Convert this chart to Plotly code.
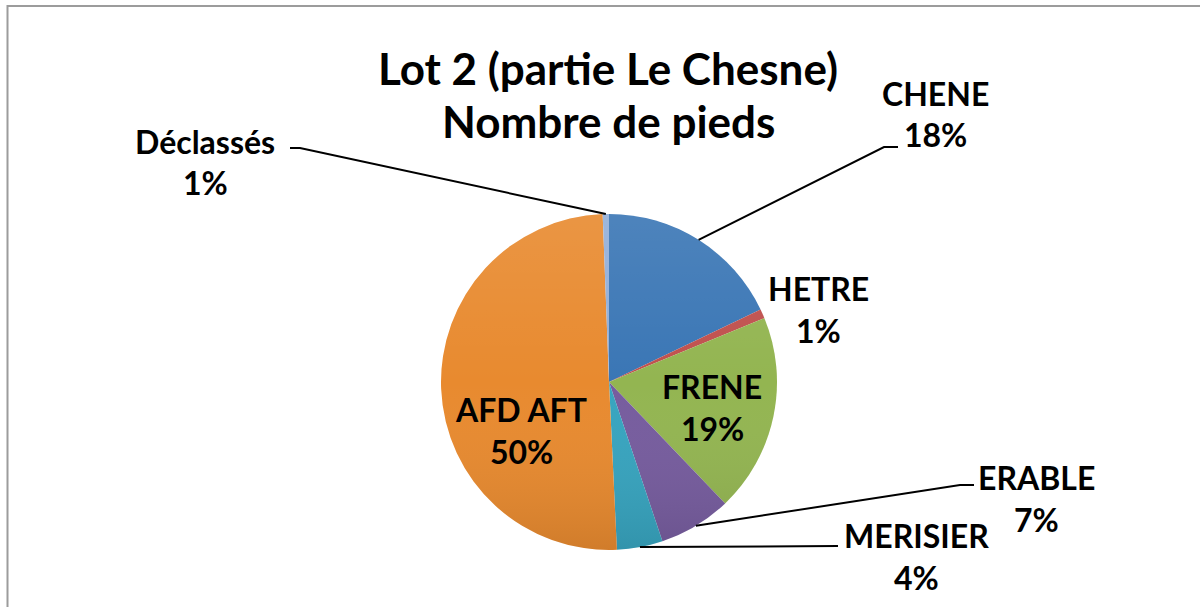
import math
import base64
import plotly.graph_objects as go

# ---- data ----
labels = ["CHENE", "HETRE", "FRENE", "ERABLE", "MERISIER", "AFD AFT", "Déclassés"]
values = [17.9, 0.9, 19.05, 7.0, 4.4, 50.15, 0.6]
colors = ["#3A76B5", "#C0504D", "#93B551", "#765C9E", "#37A4BF", "#E88A2F", "#93AFD8"]

title_lines = ["Lot 2 (partie Le Chesne)", "Nombre de pieds"]

# ---- layout geometry (pixels) ----
W, H = 1200, 607
CX, CY, R = 609, 382, 168

# label block centres (px) and leader-line anchor
label_pos = {
    "CHENE": (935, 114, True, (884, 147)),
    "HETRE": (818, 309, False, None),
    "FRENE": (712, 407, False, None),
    "ERABLE": (1036, 498, True, (960, 485)),
    "MERISIER": (916, 556, True, (838, 546)),
    "AFD AFT": (521, 430, False, None),
    "Déclassés": (205, 162, True, (300, 148)),
}
stub = {"CHENE": 14, "ERABLE": 14, "MERISIER": 0, "Déclassés": -10}

def px(x):
    return x / W

def py(y):
    return 1 - y / H

fig = go.Figure()
fig.add_trace(go.Pie(
    labels=labels, values=values, sort=False, direction="clockwise", rotation=0,
    marker=dict(colors=colors, line=dict(width=0)),
    textinfo="none", showlegend=False, hole=0,
    domain=dict(x=[px(CX - R), px(CX + R)], y=[py(CY + R), py(CY - R)]),
))

# subtle vertical shading over the pie (Excel-style gradient look)
svg = ('<svg xmlns="http://www.w3.org/2000/svg" width="336" height="336" viewBox="0 0 336 336">'
       '<defs><linearGradient id="g" x1="0" y1="0" x2="0" y2="1">'
       '<stop offset="0" stop-color="#ffffff" stop-opacity="0.10"/>'
       '<stop offset="0.5" stop-color="#ffffff" stop-opacity="0"/>'
       '<stop offset="1" stop-color="#000000" stop-opacity="0.10"/>'
       '</linearGradient></defs>'
       '<circle cx="168" cy="168" r="168" fill="url(#g)"/></svg>')
svg_uri = "data:image/svg+xml;base64," + base64.b64encode(svg.encode()).decode()

font_family = "Lato, 'Open Sans', Arial, sans-serif"
annotations = []
shapes = []

# title
for i, t in enumerate(title_lines):
    annotations.append(dict(
        x=px(608), y=py(68 + 53 * i), xref="paper", yref="paper",
        text="<b>%s</b>" % t, showarrow=False, xanchor="center", yanchor="middle",
        font=dict(family=font_family, size=44, color="#000000"),
    ))

total = sum(values)
cum = 0.0
for lab, v in zip(labels, values):
    mid = (cum + v / 2) / total * 2 * math.pi
    cum += v
    lx, ly, has_line, anchor = label_pos[lab]
    pct = round(v / total * 100)
    annotations.append(dict(
        x=px(lx), y=py(ly - 21), xref="paper", yref="paper",
        text="<b>%s</b>" % lab, showarrow=False, xanchor="center", yanchor="middle",
        font=dict(family=font_family, size=32, color="#000000"),
    ))
    annotations.append(dict(
        x=px(lx), y=py(ly + 21), xref="paper", yref="paper",
        text="<b>%d%%</b>" % pct, showarrow=False, xanchor="center", yanchor="middle",
        font=dict(family=font_family, size=32, color="#000000"),
    ))
    if has_line:
        ex = CX + R * math.sin(mid)
        ey = CY - R * math.cos(mid)
        ax, ay = anchor
        s = stub[lab]
        path = "M %f %f L %f %f L %f %f" % (px(ex), py(ey), px(ax), py(ay), px(ax + s), py(ay))
        shapes.append(dict(type="path", path=path, xref="paper", yref="paper",
                           line=dict(color="#000000", width=2)))

# outer frame
shapes.append(dict(type="rect", xref="paper", yref="paper",
                   x0=px(7.5), y0=-0.05, x1=1.05, y1=py(6),
                   line=dict(color="#9C9C9C", width=2)))

fig.update_layout(
    width=W, height=H, margin=dict(l=0, r=0, t=0, b=0),
    paper_bgcolor="#FFFFFF", plot_bgcolor="#FFFFFF",
    annotations=annotations, shapes=shapes,
    images=[dict(source=svg_uri, xref="paper", yref="paper",
                 x=px(CX - R), y=py(CY - R), sizex=2 * R / W, sizey=2 * R / H,
                 xanchor="left", yanchor="top", sizing="stretch", layer="above")],
)

fig.write_html("out.html")
